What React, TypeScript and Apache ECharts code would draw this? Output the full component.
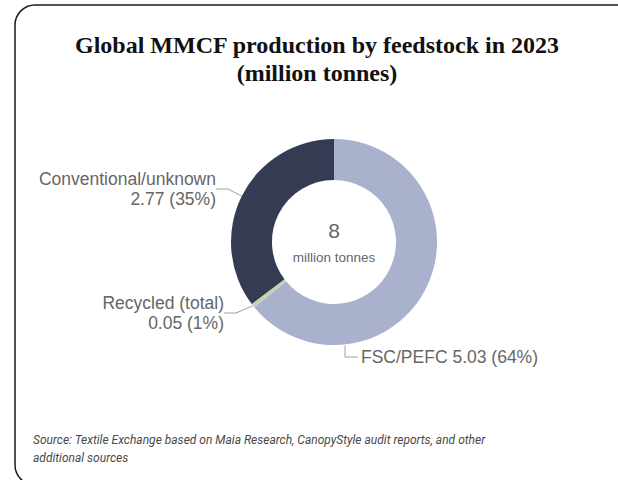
import React, { useEffect, useRef } from "react";
import * as echarts from "echarts";

const categories = ["FSC/PEFC", "Recycled (total)", "Conventional/unknown"];
const values = [5.03, 0.05, 2.77];
const colors = ["#a9b1cc", "#c3d5ae", "#353b52"];
const labelSeparators = [" ", "\n", "\n"];
const titleText = "Global MMCF production by feedstock in 2023\n(million tonnes)";
const centerUnit = "million tonnes";
const sourceText =
  "Source: Textile Exchange based on Maia Research, CanopyStyle audit reports, and other\nadditional sources";

const CX = 334;
const CY = 242;
const R_IN = 62;
const R_OUT = 103;
// label anchor offsets from the pie centre: [dx, dy, align]
const labelOffsets: [number, number, string][] = [
  [27, 115, "left"],
  [-110, 71, "right"],
  [-118, -53, "right"],
];

export default function App() {
  const ref = useRef<HTMLDivElement>(null);
  useEffect(() => {
    if (!ref.current) return;
    const chart = echarts.init(ref.current, undefined, { renderer: "svg" });
    const total = values.reduce((a, b) => a + b, 0);
    const data = categories.map((name, i) => ({
      name,
      value: values[i],
      itemStyle: { color: colors[i] },
    }));
    chart.setOption({
      animation: false,
      backgroundColor: "#ffffff",
      graphic: [
        {
          type: "rect",
          shape: { x: 15, y: 5, width: 700, height: 480, r: 20 },
          style: { fill: "none", stroke: "#1a1a1a", lineWidth: 1.5 },
          silent: true,
        },
        {
          type: "text",
          x: 317,
          y: 59,
          style: {
            text: titleText,
            fontFamily: "Liberation Serif",
            fontWeight: "bold",
            fontSize: 24,
            lineHeight: 28,
            fill: "#111111",
            align: "center",
            verticalAlign: "middle",
          },
        },
        {
          type: "text",
          x: CX,
          y: 230,
          style: {
            text: String(Math.round(total)),
            fontFamily: "Liberation Sans",
            fontSize: 21,
            fill: "#666666",
            align: "center",
            verticalAlign: "middle",
          },
        },
        {
          type: "text",
          x: CX,
          y: 257,
          style: {
            text: centerUnit,
            fontFamily: "Liberation Sans",
            fontSize: 13.5,
            fill: "#666666",
            align: "center",
            verticalAlign: "middle",
          },
        },
        {
          type: "text",
          x: 33,
          y: 431,
          style: {
            text: sourceText,
            fontFamily: "Roboto",
            fontStyle: "italic",
            fontSize: 12,
            lineHeight: 18,
            fill: "#4a4a4a",
            align: "left",
            verticalAlign: "top",
          },
        },
      ],
      series: [
        {
          type: "pie",
          center: [CX, CY],
          radius: [R_IN, R_OUT],
          startAngle: 90,
          clockwise: true,
          data,
          label: {
            show: true,
            position: "outside",
            overflow: "none",
            fontFamily: "Liberation Sans",
            fontSize: 17.5,
            lineHeight: 20,
            color: "#666666",
            formatter: (p: any) =>
              p.name +
              labelSeparators[p.dataIndex] +
              p.value.toFixed(2) +
              " (" +
              Math.round((p.value / total) * 100) +
              "%)",
          },
          labelLine: {
            show: true,
            length: 10,
            length2: 12,
            lineStyle: { color: "#a0a0a0", width: 1 },
          },
          labelLayout: (p: any) => {
            const off = labelOffsets[p.dataIndex];
            const lx = CX + off[0];
            const ly = CY + off[1];
            const res: any = {
              x: lx,
              y: ly,
              align: off[2],
              verticalAlign: "middle",
            };
            if (off[2] === "left") {
              // elbow guide: straight down from the ring, then across to the label
              const vx = lx - 16;
              const dx = vx - CX;
              const sy = CY + Math.sqrt(R_OUT * R_OUT - dx * dx) + 1;
              res.labelLinePoints = [
                [vx, sy],
                [vx, ly],
                [lx - 3, ly],
              ];
            }
            return res;
          },
          emphasis: { disabled: true },
        },
      ],
    });
    return () => chart.dispose();
  }, []);
  return (
    <div
      ref={ref}
      style={{ position: "fixed", left: 0, top: 0, width: 618, height: 480 }}
    />
  );
}
